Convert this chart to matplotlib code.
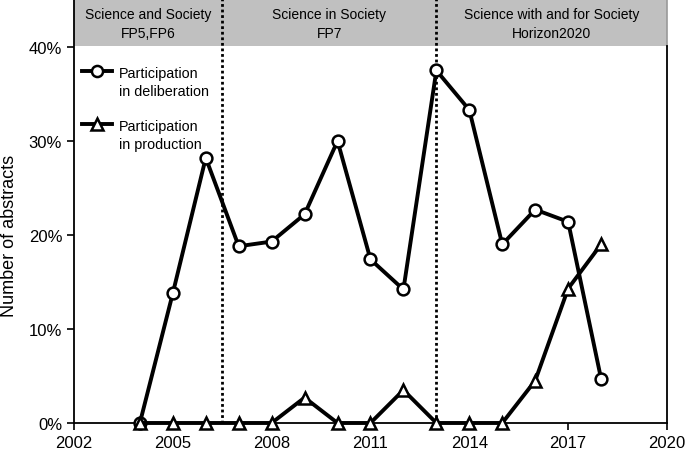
import matplotlib.pyplot as plt
import matplotlib.ticker as mticker

plt.rcParams['font.family'] = ['Liberation Sans', 'DejaVu Sans']

years = [2004, 2005, 2006, 2007, 2008, 2009, 2010, 2011,
         2012, 2013, 2014, 2015, 2016, 2017, 2018]
deliberation = [0.0, 13.8, 28.2, 18.8, 19.3, 22.2, 30.0, 17.4,
                14.2, 37.5, 33.3, 19.0, 22.7, 21.4, 4.7]
production = [0.0, 0.0, 0.0, 0.0, 0.0, 2.7, 0.0, 0.0,
              3.5, 0.0, 0.0, 0.0, 4.5, 14.3, 19.0]

periods = ['Science and Society\nFP5,FP6',
           'Science in Society\nFP7',
           'Science with and for Society\nHorizon2020']
period_edges = [2002, 2006.5, 2013, 2020]

fig = plt.figure(figsize=(6.85, 4.56), dpi=100)
ax = fig.add_axes([0.108, 0.0702, 0.8657, 0.9298])

y_top = 45.1
ax.set_xlim(2002, 2020)
ax.set_ylim(0, y_top)

# header band
ax.axhspan(40.15, y_top, color='#c0c0c0', zorder=0, lw=0)
ax.plot([2020, 2020], [40.15, y_top], color='#999999', lw=1.2, clip_on=False)
for i, lab in enumerate(periods):
    xc = (period_edges[i] + period_edges[i + 1]) / 2
    ax.text(xc, 42.5, lab, ha='center', va='center', fontsize=10,
            linespacing=1.4)

for xv in period_edges[1:-1]:
    ax.axvline(xv, color='k', lw=2, linestyle=(0, (1, 1)), zorder=1)

ax.plot(years, deliberation, color='k', lw=2.8, marker='o', ms=8.5,
        mfc='white', mec='k', mew=1.8, zorder=3, clip_on=False)
ax.plot(years, production, color='k', lw=2.8, marker='^', ms=8.5,
        mfc='white', mec='k', mew=1.8, zorder=4, clip_on=False)

# legend drawn by hand so the marker sits on the first text line
leg = [('o', ['Participation', 'in deliberation'], 0.830, [0.826, 0.783]),
       ('^', ['Participation', 'in production'], 0.705, [0.700, 0.658])]
for m, lines, yy, ty in leg:
    ax.plot([0.014, 0.064], [yy, yy], transform=ax.transAxes, color='k',
            lw=2.8, clip_on=False)
    ax.plot([0.039], [yy], transform=ax.transAxes, marker=m, ms=8,
            mfc='white', mec='k', mew=1.8, color='k')
    for t, y in zip(lines, ty):
        ax.text(0.076, y, t, transform=ax.transAxes, ha='left',
                va='center', fontsize=10.4)

ax.set_xticks(range(2002, 2021, 3))
ax.set_yticks([0, 10, 20, 30, 40])
ax.yaxis.set_major_formatter(mticker.FuncFormatter(lambda v, p: '%d%%' % v))
ax.tick_params(direction='out', length=5, width=1.2, labelsize=12)
ax.set_ylabel('Number of abstracts', fontsize=13)
ax.yaxis.set_label_coords(-0.094, 20 / y_top)

ax.spines['top'].set_visible(False)
ax.spines['right'].set_bounds(0, 40.15)
for s in ['left', 'right', 'bottom']:
    ax.spines[s].set_linewidth(1.3)

fig.savefig('out.png', dpi=100)
